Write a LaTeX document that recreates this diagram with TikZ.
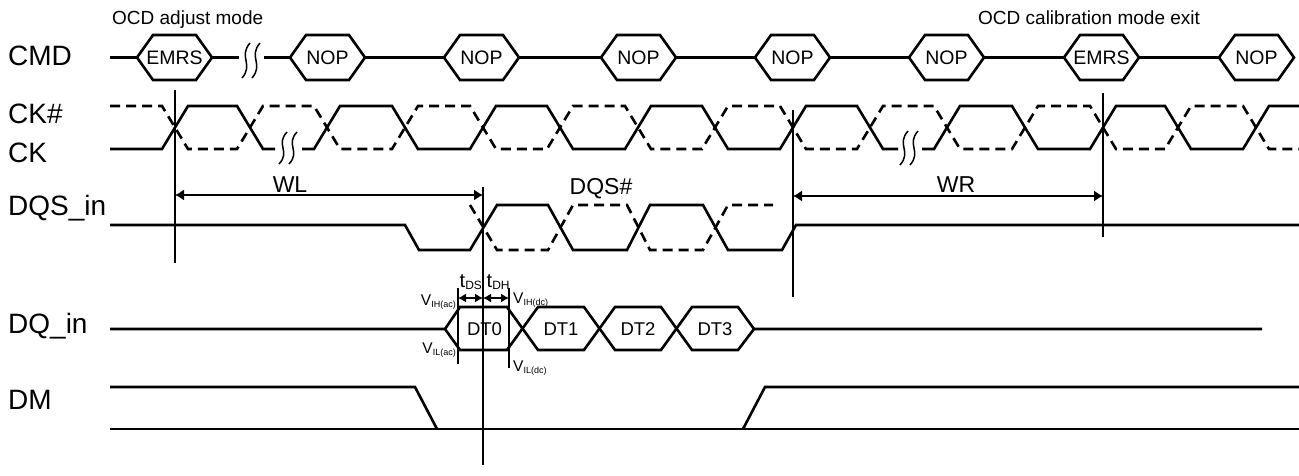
\documentclass[tikz,border=0pt]{standalone}
\usepackage{fontspec}
\setmainfont{Liberation Sans}
\usetikzlibrary{arrows.meta}
\newcommand{\fs}[1]{\fontsize{#1}{#1}\selectfont}
\newcommand{\cmdhex}[3]{%
  \draw[sig] (#1-37.5,57.5) -- (#1-21.5,35) -- (#1+21.5,35) -- (#1+37.5,57.5) -- (#1+21.5,80) -- (#1-21.5,80) -- cycle;
  \node[hexlbl] (#2) at (#1,57.5) {#3};}
\newcommand{\squigline}[3]{%
  \draw[squig] (#1+4,#2) .. controls (#1-8,#2+0.4*#3-0.4*#2) and (#1+8,#2+0.6*#3-0.6*#2) .. (#1-4,#3);}
\begin{document}
\begin{tikzpicture}[x=1pt,y=-1pt,
  sig/.style={line width=2.6pt, line join=miter},
  sigd/.style={sig, dash pattern=on 10pt off 6pt},
  vline/.style={line width=1.4pt},
  dimarrow/.style={line width=1.3pt, {Latex[length=9pt,width=11pt]}-{Latex[length=9pt,width=11pt]}},
  sdim/.style={line width=1.3pt, {Latex[length=8pt,width=9pt]}-{Latex[length=8pt,width=9pt]}},
  squig/.style={line width=1.5pt},
  biglbl/.style={anchor=base west, inner sep=0pt, font=\fs{28}},
  hexlbl/.style={inner sep=0pt, outer sep=0pt, minimum width=75pt, minimum height=45pt, font=\fs{19.5}},
  datlbl/.style={inner sep=0pt, font=\fs{18.5}},
  midlbl/.style={anchor=base, inner sep=0pt, font=\fs{23}},
  toplbl/.style={anchor=base west, inner sep=0pt, font=\fs{19}},
  vlbl/.style={inner sep=0pt, font=\fs{15.5}},
]
\useasboundingbox (0,0) rectangle (1299,475);
\fill[white] (0,0) rectangle (1299,475);

% signal names
\node[biglbl] (lcmd) at (8,65) {CMD};
\node[biglbl] (lckn) at (8,123) {CK\#};
\node[biglbl] (lck) at (8,162) {CK};
\node[biglbl] (ldqs) at (8,215) {DQS\_in};
\node[biglbl] (ldq) at (8,333) {DQ\_in};
\node[biglbl] (ldm) at (8,409) {DM};

% top labels
\node[toplbl] (ocda) at (112,24) {OCD adjust mode};
\node[toplbl] (ocdc) at (978,24) {OCD calibration mode exit};

% CMD row
\cmdhex{174.5}{h1}{EMRS}
\cmdhex{327.5}{h2}{NOP}
\cmdhex{481.5}{h3}{NOP}
\cmdhex{638.5}{h4}{NOP}
\cmdhex{792.5}{h5}{NOP}
\cmdhex{946.5}{h6}{NOP}
\cmdhex{1101.5}{h7}{EMRS}
\cmdhex{1256.5}{h8}{NOP}
\coordinate (cmds) at (110,57.5);
\coordinate (sqa) at (239,57.5);
\coordinate (sqb) at (264,57.5);
\draw[sig] (cmds) -- (h1.west);
\draw[sig] (h1.east) -- (sqa);
\draw[sig] (sqb) -- (h2.west);
\draw[sig] (h2.east) -- (h3.west);
\draw[sig] (h3.east) -- (h4.west);
\draw[sig] (h4.east) -- (h5.west);
\draw[sig] (h5.east) -- (h6.west);
\draw[sig] (h6.east) -- (h7.west);
\draw[sig] (h7.east) -- (h8.west);
\squigline{246}{43}{78}
\squigline{256}{43}{78}

% CK (solid)
\draw[sig] (110,149) -- (162,149) -- (188,106) -- (237,106) -- (263,149) -- (275,149);
\draw[sig] (302,149) -- (314,149) -- (340,106) -- (392,106) -- (418,149) -- (470,149) -- (496,106) -- (547,106) -- (573,149) -- (625,149) -- (651,106) -- (702,106) -- (728,149) -- (780,149) -- (806,106) -- (857,106) -- (883,149) -- (898,149);
\draw[sig] (922,149) -- (934,149) -- (960,106) -- (1012,106) -- (1038,149) -- (1090,149) -- (1116,106) -- (1165,106) -- (1191,149) -- (1243,149) -- (1269,106) -- (1299,106);
% CK# (dashed)
\draw[sigd] (110,106) -- (162,106) -- (188,149) -- (237,149) -- (263,106) -- (314,106) -- (340,149) -- (392,149) -- (418,106) -- (470,106) -- (496,149) -- (547,149) -- (573,106) -- (625,106) -- (651,149) -- (702,149) -- (728,106) -- (780,106) -- (806,149) -- (857,149) -- (883,106) -- (934,106) -- (960,149) -- (1012,149) -- (1038,106) -- (1090,106) -- (1116,149) -- (1165,149) -- (1191,106) -- (1243,106) -- (1269,149) -- (1299,149);
\squigline{283}{132}{164}
\squigline{293}{132}{164}
\squigline{904}{131}{165}
\squigline{914}{131}{165}

% DQS_in
\draw[sig] (110,225) -- (405,225) -- (419,250) -- (470,250) -- (497,205) -- (548,205) -- (573,250) -- (627,250) -- (650,205) -- (703,205) -- (728,250) -- (782,250) -- (796,225) -- (1299,225);
\draw[sigd] (470,205) -- (497,250) -- (548,250) -- (573,205) -- (627,205) -- (650,250) -- (703,250) -- (728,205) -- (773,205);

% DQ_in
\draw[sig] (110,329) -- (445,329) -- (460,307) -- (507,307) -- (538,350) -- (584,350) -- (615,307) -- (661,307) -- (692,350) -- (738,350) -- (754,329) -- (1262,329);
\draw[sig] (445,329) -- (460,350) -- (507,350) -- (538,307) -- (584,307) -- (615,350) -- (661,350) -- (692,307) -- (738,307) -- (754,329);
\node[datlbl] (dt0) at (484.5,329) {DT0};
\node[datlbl] (dt1) at (561,329) {DT1};
\node[datlbl] (dt2) at (638,329) {DT2};
\node[datlbl] (dt3) at (715,329) {DT3};

% DM
\draw[sig] (110,387) -- (415,387) -- (437,429);
\draw[sig] (110,429) -- (1299,429);
\draw[sig] (743,429) -- (765,387) -- (1299,387);

% reference lines
\coordinate (m1t) at (175,90);   \coordinate (m1b) at (175,263);
\coordinate (m2t) at (483,187);  \coordinate (m2b) at (483,465);
\coordinate (m3t) at (793,110);  \coordinate (m3b) at (793,297);
\coordinate (m4t) at (1103,93);  \coordinate (m4b) at (1103,237);
\coordinate (m5t) at (458,288);  \coordinate (m5b) at (458,364);
\coordinate (m6t) at (509,288);  \coordinate (m6b) at (509,368);
\draw[vline] (m1t) -- (m1b);
\draw[vline] (m2t) -- (m2b);
\draw[vline] (m3t) -- (m3b);
\draw[vline] (m4t) -- (m4b);
\draw[vline] (m5t) -- (m5b);
\draw[vline] (m6t) -- (m6b);

% dimension arrows
\coordinate (wla) at (175,195); \coordinate (wlb) at (483,195);
\coordinate (wra) at (793,196); \coordinate (wrb) at (1103,196);
\coordinate (tda) at (458,298); \coordinate (tdb) at (483,298); \coordinate (tdc) at (509,298);
\draw[dimarrow] (wla) -- (wlb);
\draw[dimarrow] (wra) -- (wrb);
\draw[sdim] (tda) -- (tdb);
\draw[sdim] (tdb) -- (tdc);
\node[midlbl] (wl) at (290,192) {WL};
\node[midlbl] (wr) at (956,192) {WR};
\node[midlbl] (dqsn) at (601,194) {DQS\#};

% timing labels
\node[anchor=base west, inner sep=0pt] (tds) at (459.5,287) {\fs{20}t\raisebox{-2pt}{\fs{12}DS}};
\node[anchor=base west, inner sep=0pt] (tdh) at (486.5,287) {\fs{20}t\raisebox{-2pt}{\fs{12}DH}};
\node[vlbl, anchor=base east] (vihac) at (456,305) {V\raisebox{-2pt}{\fs{9}IH(ac)}};
\node[vlbl, anchor=base west] (vihdc) at (513,303) {V\raisebox{-2pt}{\fs{9}IH(dc)}};
\node[vlbl, anchor=base east] (vilac) at (456,353) {V\raisebox{-2pt}{\fs{9}IL(ac)}};
\node[vlbl, anchor=base west] (vildc) at (513,371) {V\raisebox{-2pt}{\fs{9}IL(dc)}};
\end{tikzpicture}
\end{document}
